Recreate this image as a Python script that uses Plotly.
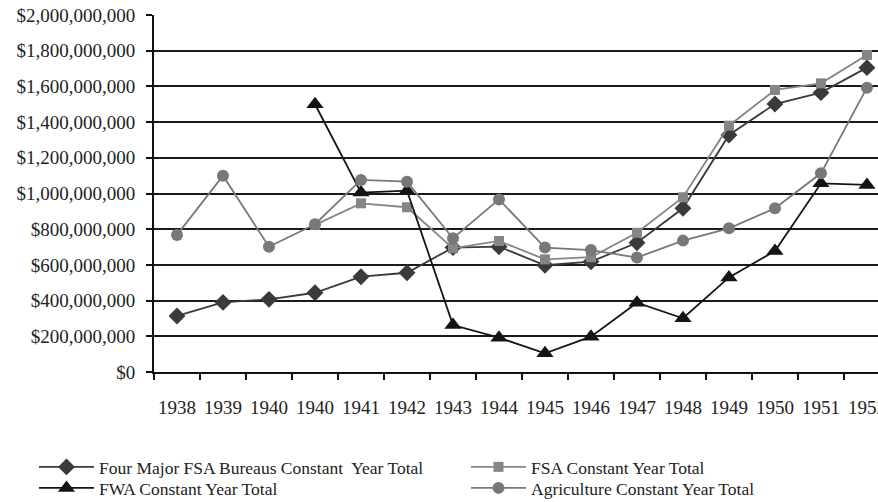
import plotly.graph_objects as go

years = ["1938", "1939", "1940", "1940", "1941", "1942", "1943", "1944", "1945",
         "1946", "1947", "1948", "1949", "1950", "1951", "1952"]

four_major = [314e6, 390e6, 407e6, 444e6, 534e6, 556e6, 697e6, 702e6, 598e6,
              618e6, 724e6, 917e6, 1328e6, 1501e6, 1565e6, 1705e6]
fsa = [None, None, None, 824e6, 945e6, 923e6, 693e6, 734e6, 631e6,
       643e6, 780e6, 979e6, 1380e6, 1580e6, 1617e6, 1776e6]
fwa = [None, None, None, 1500e6, 1005e6, 1016e6, 263e6, 192e6, 105e6,
       198e6, 388e6, 301e6, 530e6, 678e6, 1057e6, 1048e6]
agriculture = [768e6, 1100e6, 702e6, 828e6, 1076e6, 1066e6, 749e6, 967e6, 697e6,
               683e6, 641e6, 736e6, 805e6, 917e6, 1113e6, 1593e6]

y_ticks = [0, 200e6, 400e6, 600e6, 800e6, 1000e6, 1200e6, 1400e6, 1600e6, 1800e6, 2000e6]
y_labels = ["$0", "$200,000,000", "$400,000,000", "$600,000,000", "$800,000,000",
            "$1,000,000,000", "$1,200,000,000", "$1,400,000,000", "$1,600,000,000",
            "$1,800,000,000", "$2,000,000,000"]

x = list(range(len(years)))
serif = "Liberation Serif, Times New Roman, serif"

fig = go.Figure()
fig.add_trace(go.Scatter(
    x=x, y=four_major, name="Four Major FSA Bureaus Constant  Year Total",
    mode="lines+markers", line=dict(color="#3a3a3a", width=1.8),
    marker=dict(symbol="diamond", size=13, color="#3a3a3a"), legend="legend"))
fig.add_trace(go.Scatter(
    x=x, y=fsa, name="FSA Constant Year Total",
    mode="lines+markers", line=dict(color="#858585", width=1.8),
    marker=dict(symbol="square", size=10, color="#858585"), legend="legend2"))
fig.add_trace(go.Scatter(
    x=x, y=fwa, name="FWA Constant Year Total",
    mode="lines+markers", line=dict(color="#141414", width=1.8),
    marker=dict(symbol="triangle-up", size=15, color="#141414"), legend="legend3"))
fig.add_trace(go.Scatter(
    x=x, y=agriculture, name="Agriculture Constant Year Total",
    mode="lines+markers", line=dict(color="#787878", width=1.8),
    marker=dict(symbol="circle", size=12, color="#787878"), legend="legend4"))


def legend_at(px, py):
    return dict(xref="container", yref="container", x=px / 878, y=1 - py / 502,
                xanchor="left", yanchor="middle", orientation="v",
                font=dict(family=serif, size=17.5, color="#222222"),
                itemwidth=55, bgcolor="rgba(0,0,0,0)", borderwidth=0)


fig.update_layout(
    width=878, height=502,
    margin=dict(l=154, r=0, t=15, b=130, autoexpand=False),
    paper_bgcolor="white", plot_bgcolor="white",
    font=dict(family=serif, color="#222222"),
    showlegend=True,
    legend=legend_at(34, 467),
    legend2=legend_at(466, 467),
    legend3=legend_at(34, 488),
    legend4=legend_at(466, 488),
)

fig.update_xaxes(
    range=[-0.5, 15.24],
    tickmode="array", tickvals=x, ticktext=years,
    ticks="", showgrid=False, zeroline=False,
    showline=True, linecolor="#111111", linewidth=2,
    tickfont=dict(family=serif, size=19, color="#222222"),
    ticklabelstandoff=17, ticklabeloverflow="allow",
    minor=dict(tickmode="array", tickvals=[i - 0.5 for i in range(17)],
               ticks="outside", ticklen=6, tickwidth=2, tickcolor="#111111",
               showgrid=False),
)
fig.update_yaxes(
    range=[0, 2000e6],
    tickmode="array", tickvals=y_ticks, ticktext=y_labels,
    ticks="outside", ticklen=6, tickwidth=2, tickcolor="#111111",
    showgrid=True, gridcolor="#1a1a1a", gridwidth=2,
    zeroline=False, showline=True, linecolor="#111111", linewidth=2,
    tickfont=dict(family=serif, size=19, color="#222222"),
    ticklabelstandoff=7,
)

fig.write_html("out.html", config={"displayModeBar": False},
               post_script="document.body.style.margin='0';document.body.style.overflow='hidden';")
